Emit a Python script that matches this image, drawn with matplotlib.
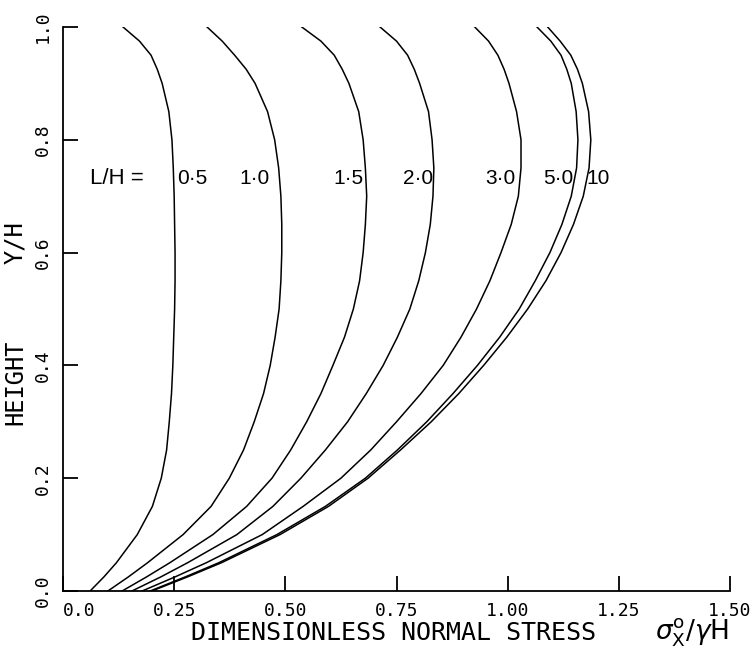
import numpy as np
import matplotlib
matplotlib.use("Agg")
import matplotlib.pyplot as plt

# height Y/H (common grid for all curves)
height = [0, 0.025, 0.05, 0.1, 0.15, 0.2, 0.25, 0.3, 0.35, 0.4, 0.45, 0.5,
          0.55, 0.6, 0.65, 0.7, 0.75, 0.8, 0.85, 0.9, 0.925, 0.95, 0.975, 1.0]

# dimensionless normal stress for each L/H
stress_05 = [0.061, 0.092, 0.120, 0.167, 0.201, 0.221, 0.233, 0.239, 0.244, 0.247, 0.249, 0.251,
             0.252, 0.252, 0.251, 0.250, 0.248, 0.245, 0.238, 0.223, 0.212, 0.198, 0.172, 0.135]
stress_10 = [0.101, 0.147, 0.190, 0.270, 0.333, 0.374, 0.406, 0.430, 0.451, 0.466, 0.477, 0.486,
             0.490, 0.492, 0.492, 0.490, 0.485, 0.476, 0.460, 0.432, 0.412, 0.386, 0.358, 0.324]
stress_15 = [0.133, 0.188, 0.240, 0.337, 0.413, 0.470, 0.512, 0.548, 0.580, 0.607, 0.633, 0.653,
             0.667, 0.675, 0.680, 0.683, 0.680, 0.675, 0.665, 0.643, 0.628, 0.610, 0.580, 0.537]
stress_20 = [0.155, 0.220, 0.280, 0.391, 0.472, 0.535, 0.590, 0.640, 0.682, 0.720, 0.752, 0.780,
             0.800, 0.815, 0.826, 0.832, 0.834, 0.830, 0.822, 0.802, 0.790, 0.775, 0.750, 0.713]
stress_30 = [0.178, 0.252, 0.322, 0.448, 0.540, 0.625, 0.692, 0.750, 0.805, 0.855, 0.895, 0.930,
             0.960, 0.985, 1.008, 1.024, 1.030, 1.030, 1.020, 1.003, 0.992, 0.978, 0.957, 0.926]
stress_50 = [0.196, 0.275, 0.350, 0.481, 0.590, 0.680, 0.752, 0.818, 0.877, 0.932, 0.982, 1.026,
             1.062, 1.095, 1.122, 1.143, 1.155, 1.158, 1.154, 1.143, 1.133, 1.120, 1.097, 1.066]
stress_100 = [0.200, 0.280, 0.356, 0.488, 0.597, 0.686, 0.759, 0.828, 0.890, 0.946, 0.998, 1.045,
              1.086, 1.120, 1.148, 1.170, 1.183, 1.187, 1.182, 1.168, 1.157, 1.142, 1.118, 1.090]

curve_labels = ["0·5", "1·0", "1·5", "2·0", "3·0", "5·0", "10"]
label_x = [0.29, 0.43, 0.641, 0.798, 0.983, 1.113, 1.203]
label_y = 0.732

x_ticks = [0.0, 0.25, 0.5, 0.75, 1.0, 1.25, 1.5]
x_ticklabels = ["0.0", "0.25", "0.50", "0.75", "1.00", "1.25", "1.50"]
y_ticks = [0.0, 0.2, 0.4, 0.6, 0.8, 1.0]
y_ticklabels = ["0.0", "0.2", "0.4", "0.6", "0.8", "1.0"]

mono = "DejaVu Sans Mono"
sans = "Liberation Sans"

fig = plt.figure(figsize=(7.55, 6.61), dpi=100)
ax = fig.add_axes([63 / 755, 70 / 661, 667 / 755, 564 / 661])

for s in [stress_05, stress_10, stress_15, stress_20, stress_30, stress_50, stress_100]:
    ax.plot(s, height, color="black", lw=1.1, solid_joinstyle="round")

ax.set_xlim(0, 1.5)
ax.set_ylim(0, 1.0)
ax.spines["top"].set_visible(False)
ax.spines["right"].set_visible(False)
for sp in ["left", "bottom"]:
    ax.spines[sp].set_linewidth(1.3)

ax.set_xticks(x_ticks)
ax.set_xticklabels(x_ticklabels, family=mono, fontsize=13)
ax.set_yticks(y_ticks)
ax.set_yticklabels(y_ticklabels, family=mono, fontsize=13, rotation=90, va="center")
ax.tick_params(direction="in", length=11, width=1.3, pad=8)
ax.get_xticklabels()[0].set_ha("left")

# curve labels
ax.text(0.061, label_y, "L/H =", family=sans, fontsize=16, va="center", ha="left")
for lx, lab in zip(label_x, curve_labels):
    ax.text(lx, label_y, lab, family=sans, fontsize=15, va="center", ha="center")

# axis titles
fig.text(394 / 755, 1 - 633 / 661, "DIMENSIONLESS NORMAL STRESS", family=mono,
         fontsize=18, ha="center", va="center")
fig.text(692 / 755, 1 - 633 / 661, r"$\sigma_{\mathrm{X}}^{\mathrm{o}}/\gamma\mathrm{H}$",
         fontsize=19, ha="center", va="center")
fig.text(15 / 755, 1 - 382 / 661, "HEIGHT", family=mono, fontsize=17,
         rotation=90, ha="center", va="center")
fig.text(15 / 755, 1 - 243 / 661, "Y/H", family=mono, fontsize=17,
         rotation=90, ha="center", va="center")

fig.savefig("out.png", dpi=100)
